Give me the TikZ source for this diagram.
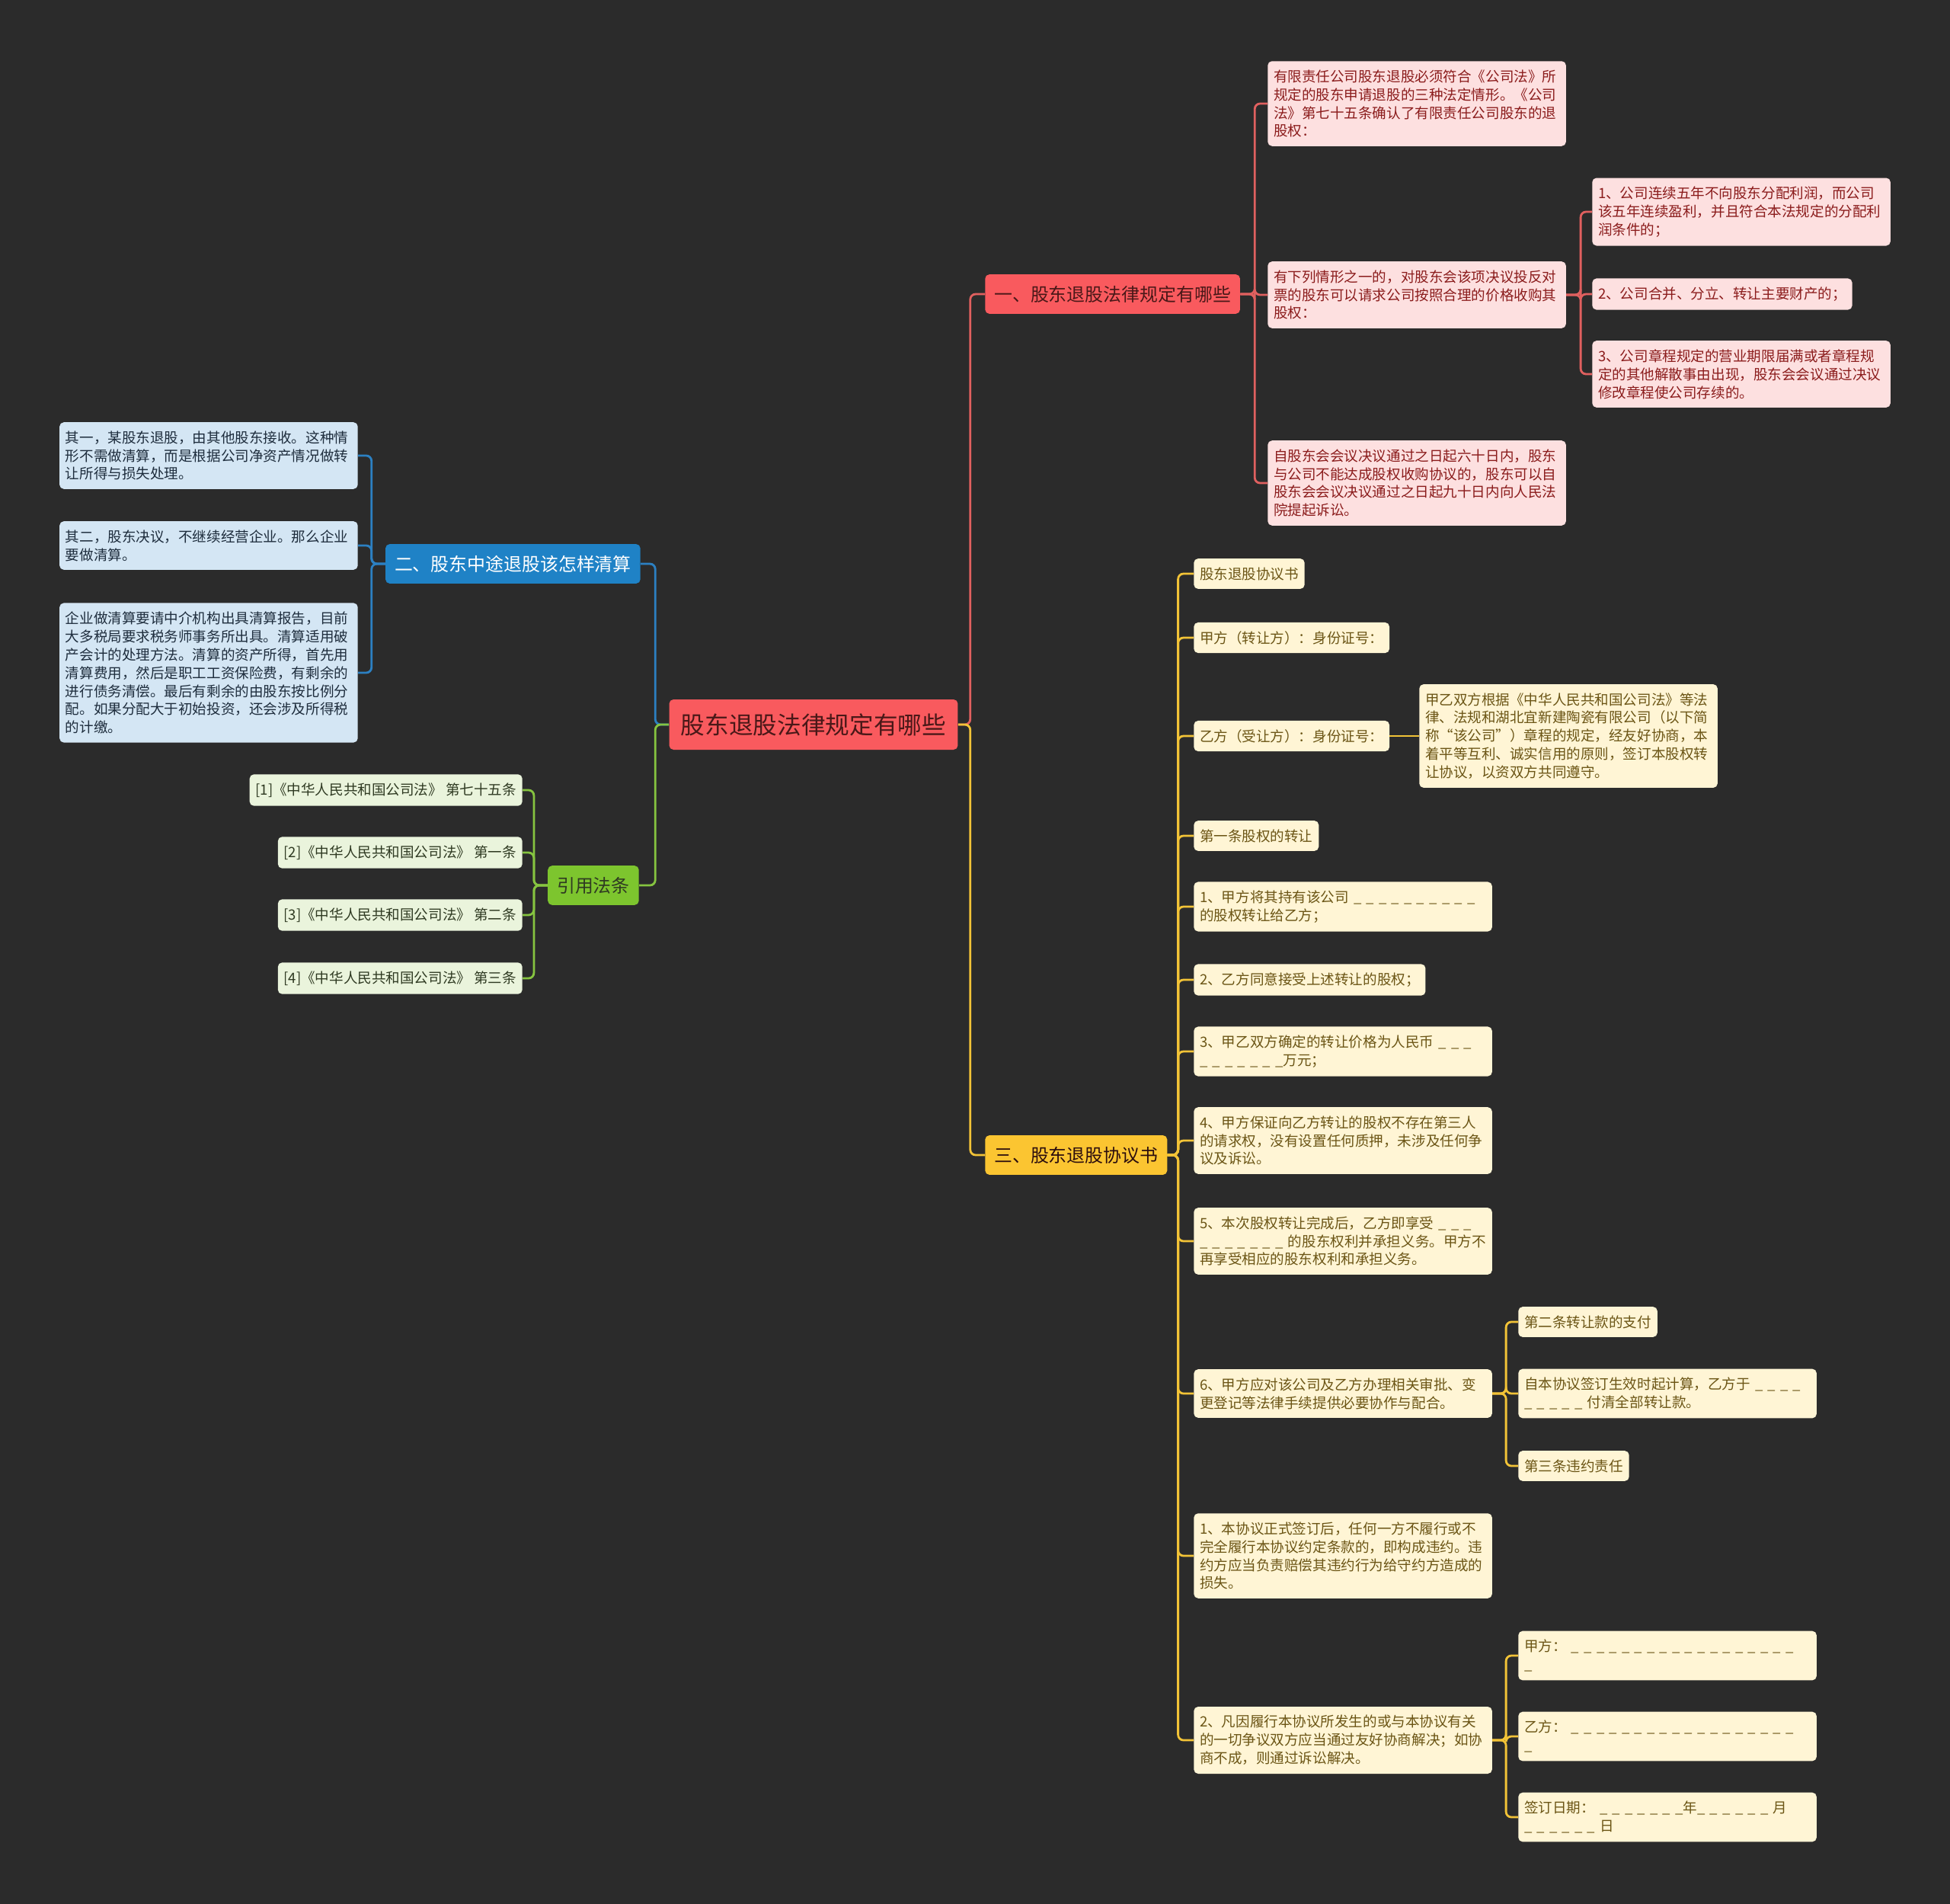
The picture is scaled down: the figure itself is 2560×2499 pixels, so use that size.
\documentclass[tikz,border=0pt]{standalone}
\usepackage{fontspec}
\setmainfont{Noto Sans CJK SC}

\definecolor{bg}{HTML}{2B2B2B}
\definecolor{rootred}{HTML}{F95A5E}
\definecolor{rootink}{HTML}{4A1818}
\definecolor{redline}{HTML}{E0605F}
\definecolor{pinkfill}{HTML}{FDE0E0}
\definecolor{pinkink}{HTML}{8B1C1C}
\definecolor{bluehead}{HTML}{1F82C6}
\definecolor{blueline}{HTML}{2C80C2}
\definecolor{bluefill}{HTML}{D4E6F4}
\definecolor{blueink}{HTML}{1E2D3D}
\definecolor{greenhead}{HTML}{7DC52E}
\definecolor{greenline}{HTML}{86C440}
\definecolor{greenfill}{HTML}{EAF4DC}
\definecolor{greenink}{HTML}{2F3A22}
\definecolor{yellowhead}{HTML}{FBC531}
\definecolor{yellowline}{HTML}{F2C337}
\definecolor{creamfill}{HTML}{FFF5D5}
\definecolor{creamink}{HTML}{6B5515}

\newcommand{\leaffont}{\fontsize{13.2pt}{17pt}\selectfont}
\newcommand{\headfont}{\fontsize{17pt}{21pt}\selectfont}
\newcommand{\rootfont}{\fontsize{22.5pt}{27pt}\selectfont}

\tikzset{
  rootbox/.style={rounded corners=4pt,fill=rootred,text=rootink,font=\rootfont,inner xsep=11pt,inner ysep=13pt},
  headbox/.style={rounded corners=4pt,font=\headfont,inner xsep=8.5pt,inner ysep=10.5pt},
  leaf/.style={rounded corners=4pt,font=\leaffont,inner xsep=5.5pt,inner ysep=8pt,text width=9.4cm,align=left},
  tag/.style={rounded corners=4pt,font=\leaffont,inner xsep=5.5pt,inner ysep=8pt},
  link/.style={line width=2pt,rounded corners=5pt}
}

\begin{document}
\begin{tikzpicture}[x=0.025cm,y=-0.025cm]
\fill[bg] (0,0) rectangle (2560,2499);
\useasboundingbox (0,0) rectangle (2560,2499);

\node[rootbox] (root) at (1068,951) {股东退股法律规定有哪些};

% 一
\node[headbox,fill=rootred,text=rootink,anchor=west] (h1) at (1293,386) {一、股东退股法律规定有哪些};
\node[leaf,fill=pinkfill,text=pinkink,anchor=west] (a1) at (1664,136) {有限责任公司股东退股必须符合《公司法》所\\规定的股东申请退股的三种法定情形。《公司\\法》第七十五条确认了有限责任公司股东的退\\股权：};
\node[leaf,fill=pinkfill,text=pinkink,anchor=west] (a2) at (1664,387) {有下列情形之一的，对股东会该项决议投反对\\票的股东可以请求公司按照合理的价格收购其\\股权：};
\node[leaf,fill=pinkfill,text=pinkink,anchor=west] (a3) at (1664,634) {自股东会会议决议通过之日起六十日内，股东\\与公司不能达成股权收购协议的，股东可以自\\股东会会议决议通过之日起九十日内向人民法\\院提起诉讼。};
\node[leaf,fill=pinkfill,text=pinkink,anchor=west] (c1) at (2090,278) {1、公司连续五年不向股东分配利润，而公司\\该五年连续盈利，并且符合本法规定的分配利\\润条件的；};
\node[tag,fill=pinkfill,text=pinkink,anchor=west] (c2) at (2090,386) {2、公司合并、分立、转让主要财产的；};
\node[leaf,fill=pinkfill,text=pinkink,anchor=west] (c3) at (2090,491) {3、公司章程规定的营业期限届满或者章程规\\定的其他解散事由出现，股东会会议通过决议\\修改章程使公司存续的。};

% 二
\node[headbox,fill=bluehead,text=white,anchor=east] (h2) at (841,740) {二、股东中途退股该怎样清算};
\node[leaf,fill=bluefill,text=blueink,anchor=east] (b1) at (470,598) {其一，某股东退股，由其他股东接收。这种情\\形不需做清算，而是根据公司净资产情况做转\\让所得与损失处理。};
\node[leaf,fill=bluefill,text=blueink,anchor=east] (b2) at (470,716) {其二，股东决议，不继续经营企业。那么企业\\要做清算。};
\node[leaf,fill=bluefill,text=blueink,anchor=east] (b3) at (470,883) {企业做清算要请中介机构出具清算报告，目前\\大多税局要求税务师事务所出具。清算适用破\\产会计的处理方法。清算的资产所得，首先用\\清算费用，然后是职工工资保险费，有剩余的\\进行债务清偿。最后有剩余的由股东按比例分\\配。如果分配大于初始投资，还会涉及所得税\\的计缴。};

% 引用法条
\node[headbox,fill=greenhead,text=greenink,anchor=east] (h4) at (839,1162) {引用法条};
\node[tag,fill=greenfill,text=greenink,anchor=east] (l1) at (686,1037) {[1]《中华人民共和国公司法》 第七十五条};
\node[tag,fill=greenfill,text=greenink,anchor=east] (l2) at (686,1119) {[2]《中华人民共和国公司法》 第一条};
\node[tag,fill=greenfill,text=greenink,anchor=east] (l3) at (686,1201) {[3]《中华人民共和国公司法》 第二条};
\node[tag,fill=greenfill,text=greenink,anchor=east] (l4) at (686,1284) {[4]《中华人民共和国公司法》 第三条};

% 三
\node[headbox,fill=yellowhead,text=rootink!60!black,anchor=west] (h3) at (1293,1516) {三、股东退股协议书};
\node[tag,fill=creamfill,text=creamink,anchor=west] (d1) at (1567,753) {股东退股协议书};
\node[tag,fill=creamfill,text=creamink,anchor=west] (d2) at (1567,837) {甲方（转让方）：身份证号：};
\node[tag,fill=creamfill,text=creamink,anchor=west] (d3) at (1567,966) {乙方（受让方）：身份证号：};
\node[leaf,fill=creamfill,text=creamink,anchor=west] (d3x) at (1863,966) {甲乙双方根据《中华人民共和国公司法》等法\\律、法规和湖北宜新建陶瓷有限公司（以下简\\称“该公司”）章程的规定，经友好协商，本\\着平等互利、诚实信用的原则，签订本股权转\\让协议，以资双方共同遵守。};
\node[tag,fill=creamfill,text=creamink,anchor=west] (d4) at (1567,1097) {第一条股权的转让};
\node[leaf,fill=creamfill,text=creamink,anchor=west] (d5) at (1567,1190) {1、甲方将其持有该公司 \_ \_ \_ \_ \_ \_ \_ \_ \_ \_\\的股权转让给乙方；};
\node[tag,fill=creamfill,text=creamink,anchor=west] (d6) at (1567,1286) {2、乙方同意接受上述转让的股权；};
\node[leaf,fill=creamfill,text=creamink,anchor=west] (d7) at (1567,1380) {3、甲乙双方确定的转让价格为人民币 \_ \_ \_\\\_ \_ \_ \_ \_ \_ \_万元；};
\node[leaf,fill=creamfill,text=creamink,anchor=west] (d8) at (1567,1497) {4、甲方保证向乙方转让的股权不存在第三人\\的请求权，没有设置任何质押，未涉及任何争\\议及诉讼。};
\node[leaf,fill=creamfill,text=creamink,anchor=west] (d9) at (1567,1629) {5、本次股权转让完成后，乙方即享受 \_ \_ \_\\\_ \_ \_ \_ \_ \_ \_ 的股东权利并承担义务。甲方不\\再享受相应的股东权利和承担义务。};
\node[leaf,fill=creamfill,text=creamink,anchor=west] (d10) at (1567,1829) {6、甲方应对该公司及乙方办理相关审批、变\\更登记等法律手续提供必要协作与配合。};
\node[tag,fill=creamfill,text=creamink,anchor=west] (e1) at (1993,1735) {第二条转让款的支付};
\node[leaf,fill=creamfill,text=creamink,anchor=west] (e2) at (1993,1829) {自本协议签订生效时起计算，乙方于 \_ \_ \_ \_\\\_ \_ \_ \_ \_ 付清全部转让款。};
\node[tag,fill=creamfill,text=creamink,anchor=west] (e3) at (1993,1924) {第三条违约责任};
\node[leaf,fill=creamfill,text=creamink,anchor=west] (d11) at (1567,2042) {1、本协议正式签订后，任何一方不履行或不\\完全履行本协议约定条款的，即构成违约。违\\约方应当负责赔偿其违约行为给守约方造成的\\损失。};
\node[leaf,fill=creamfill,text=creamink,anchor=west] (d12) at (1567,2284) {2、凡因履行本协议所发生的或与本协议有关\\的一切争议双方应当通过友好协商解决；如协\\商不成，则通过诉讼解决。};
\node[leaf,fill=creamfill,text=creamink,anchor=west] (f1) at (1993,2173) {甲方： \_ \_ \_ \_ \_ \_ \_ \_ \_ \_ \_ \_ \_ \_ \_ \_ \_ \_\\\_};
\node[leaf,fill=creamfill,text=creamink,anchor=west] (f2) at (1993,2279) {乙方： \_ \_ \_ \_ \_ \_ \_ \_ \_ \_ \_ \_ \_ \_ \_ \_ \_ \_\\\_};
\node[leaf,fill=creamfill,text=creamink,anchor=west] (f3) at (1993,2385) {签订日期： \_ \_ \_ \_ \_ \_ \_年\_ \_ \_ \_ \_ \_ 月\\\_ \_ \_ \_ \_ \_ 日};

% links
\draw[link,redline] (root.east) -- ++(16,0) |- (h1.west);
\draw[link,yellowline] (root.east) -- ++(16,0) |- (h3.west);
\draw[link,blueline] (root.west) -- ++(-18,0) |- (h2.east);
\draw[link,greenline] (root.west) -- ++(-18,0) |- (h4.east);

\draw[link,redline] (h1.east) -- ++(19,0) |- (a1.west);
\draw[link,redline] (h1.east) -- ++(19,0) |- (a2.west);
\draw[link,redline] (h1.east) -- ++(19,0) |- (a3.west);
\draw[link,redline] (a2.east) -- ++(19,0) |- (c1.west);
\draw[link,redline] (a2.east) -- ++(19,0) |- (c2.west);
\draw[link,redline] (a2.east) -- ++(19,0) |- (c3.west);

\draw[link,blueline] (h2.west) -- ++(-18,0) |- (b1.east);
\draw[link,blueline] (h2.west) -- ++(-18,0) |- (b2.east);
\draw[link,blueline] (h2.west) -- ++(-18,0) |- (b3.east);

\draw[link,greenline] (h4.west) -- ++(-18,0) |- (l1.east);
\draw[link,greenline] (h4.west) -- ++(-18,0) |- (l2.east);
\draw[link,greenline] (h4.west) -- ++(-18,0) |- (l3.east);
\draw[link,greenline] (h4.west) -- ++(-18,0) |- (l4.east);

\foreach \d in {d1,d2,d3,d4,d5,d6,d7,d8,d9,d10,d11,d12}
  \draw[link,yellowline] (h3.east) -- ++(14,0) |- (\d.west);
\draw[link,yellowline] (d3.east) -- (d3x.west);
\foreach \e in {e1,e2,e3}
  \draw[link,yellowline] (d10.east) -- ++(18,0) |- (\e.west);
\foreach \f in {f1,f2,f3}
  \draw[link,yellowline] (d12.east) -- ++(18,0) |- (\f.west);
\end{tikzpicture}
\end{document}
